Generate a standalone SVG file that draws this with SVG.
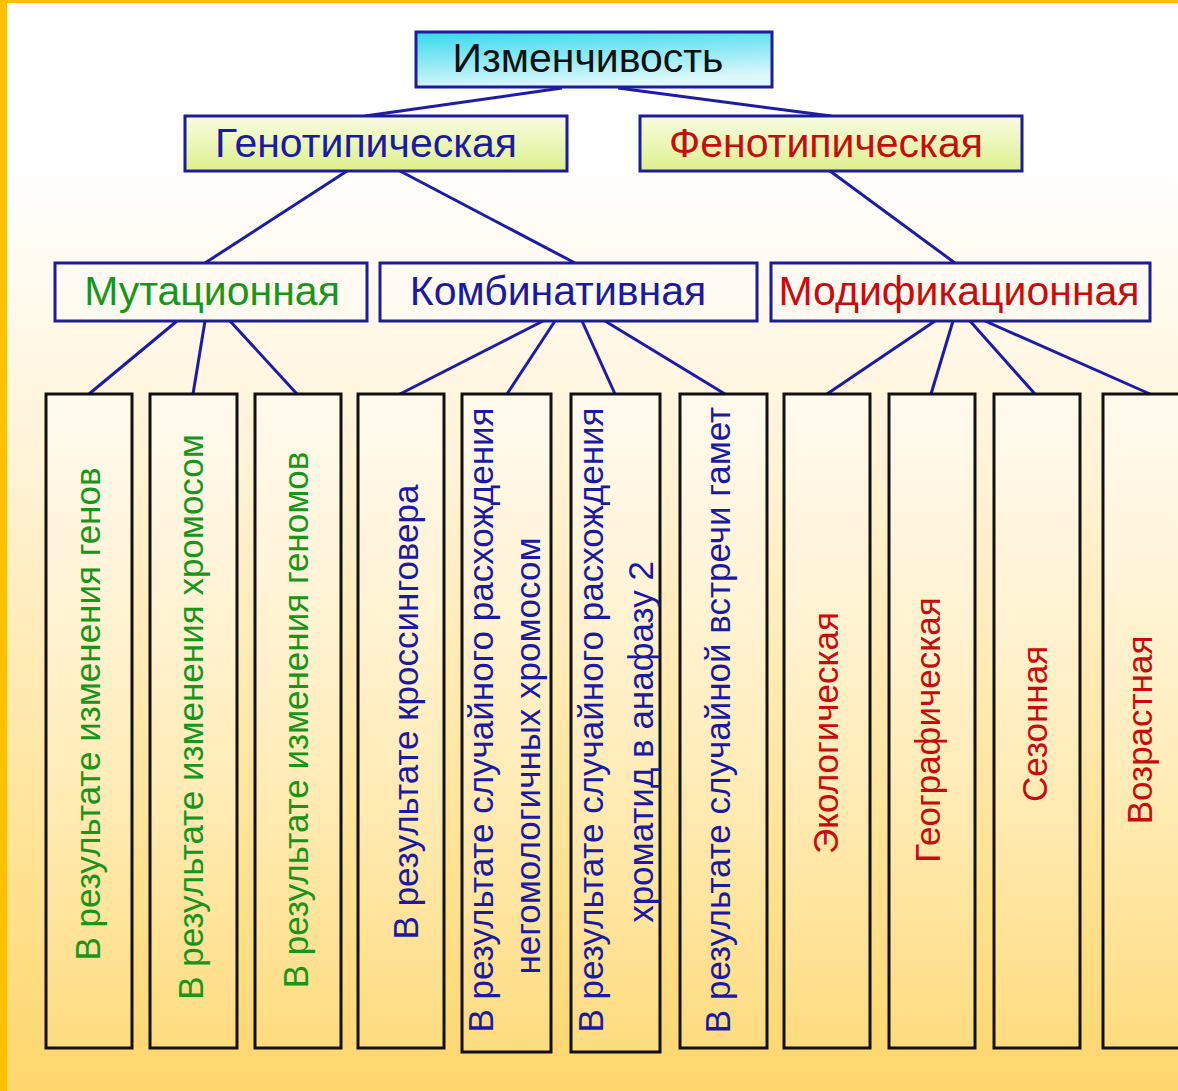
<svg xmlns="http://www.w3.org/2000/svg" width="1178" height="1091" viewBox="0 0 1178 1091">
<defs>
<linearGradient id="bg" x1="0" y1="0" x2="0" y2="1">
<stop offset="0" stop-color="#FFFFFF"/>
<stop offset="0.15" stop-color="#FFFFFF"/>
<stop offset="0.45" stop-color="#FFF2D2"/>
<stop offset="0.75" stop-color="#FFE49A"/>
<stop offset="1" stop-color="#FDD66C"/>
</linearGradient>
<linearGradient id="cyan" x1="0" y1="0" x2="0.3" y2="1">
<stop offset="0" stop-color="#36D8EC"/>
<stop offset="1" stop-color="#DDF8FB"/>
</linearGradient>
<linearGradient id="lime" x1="0" y1="0" x2="0" y2="1">
<stop offset="0" stop-color="#F8FCE2"/>
<stop offset="1" stop-color="#DDF08C"/>
</linearGradient>
<linearGradient id="tall" x1="0" y1="0" x2="0" y2="1">
<stop offset="0" stop-color="#FFFFFF" stop-opacity="0.45"/>
<stop offset="1" stop-color="#FFFFFF" stop-opacity="0.08"/>
</linearGradient>
</defs>
<style>
text{font-family:"Liberation Sans",Arial,sans-serif;}
.hd{stroke:#1C1C9C;stroke-width:3;}
.mid{fill:#FFFFFF;fill-opacity:0.25;stroke:#1C1C9C;stroke-width:3;}
.tb{fill:url(#tall);stroke:#111111;stroke-width:3;}
.h1{font-size:41px;text-anchor:middle;}
.v{font-size:35px;text-anchor:middle;}
.g{fill:#17961A;}
.b{fill:#1A1AA6;}
.r{fill:#C80C0C;}
.k{fill:#111111;}
#connectors line{stroke:#1C1CA8;stroke-width:3;}
</style>
<rect x="0" y="0" width="1178" height="1091" fill="url(#bg)"/>
<rect x="0" y="0" width="1178" height="3" fill="#FFC000"/>
<rect x="0" y="0" width="7" height="1091" fill="#FFC000"/>

<g id="connectors">
<line x1="562" y1="88" x2="365" y2="116"/>
<line x1="618" y1="88" x2="831" y2="116"/>
<line x1="347" y1="171" x2="205" y2="263"/>
<line x1="400" y1="171" x2="575" y2="263"/>
<line x1="830" y1="171" x2="955" y2="263"/>
<line x1="177" y1="321" x2="89" y2="394"/>
<line x1="205" y1="321" x2="193" y2="394"/>
<line x1="230" y1="321" x2="297" y2="394"/>
<line x1="543" y1="321" x2="400" y2="394"/>
<line x1="555" y1="321" x2="507" y2="394"/>
<line x1="582" y1="321" x2="615" y2="394"/>
<line x1="605" y1="321" x2="725" y2="394"/>
<line x1="935" y1="321" x2="827" y2="394"/>
<line x1="953" y1="321" x2="931" y2="394"/>
<line x1="970" y1="321" x2="1035" y2="394"/>
<line x1="985" y1="321" x2="1150" y2="394"/>
</g>

<g id="n-izm"><rect class="hd" x="416" y="32" width="356" height="55" fill="url(#cyan)"/><text class="h1 k" x="588" y="72">Изменчивость</text></g>
<g id="n-geno"><rect class="hd" x="185" y="116" width="382" height="55" fill="url(#lime)"/><text class="h1 b" x="366" y="157">Генотипическая</text></g>
<g id="n-feno"><rect class="hd" x="640" y="116" width="382" height="55" fill="url(#lime)"/><text class="h1 r" x="826" y="157">Фенотипическая</text></g>
<g id="n-mut"><rect class="mid" x="55" y="263" width="312" height="58"/><text class="h1 g" x="212" y="305">Мутационная</text></g>
<g id="n-komb"><rect class="mid" x="380" y="263" width="377" height="58"/><text class="h1 b" x="558" y="305">Комбинативная</text></g>
<g id="n-mod"><rect class="mid" x="771" y="263" width="379" height="58"/><text class="h1 r" x="959" y="305">Модификационная</text></g>

<g id="n-t1"><rect class="tb" x="46" y="394" width="86" height="654"/><text class="v g" transform="translate(100,714) rotate(-90)">В результате изменения генов</text></g>
<g id="n-t2"><rect class="tb" x="150" y="394" width="87" height="654"/><text class="v g" transform="translate(203,717) rotate(-90)">В результате изменения хромосом</text></g>
<g id="n-t3"><rect class="tb" x="255" y="394" width="86" height="654"/><text class="v g" transform="translate(308,720) rotate(-90)">В результате изменения геномов</text></g>
<g id="n-t4"><rect class="tb" x="358" y="394" width="86" height="654"/><text class="v b" transform="translate(418,712) rotate(-90)">В результате кроссинговера</text></g>
<g id="n-t5"><rect class="tb" x="462" y="394" width="89" height="658"/><text class="v b" transform="translate(493,720) rotate(-90)">В результате случайного расхождения</text><text class="v b" transform="translate(540,756) rotate(-90)">негомологичных  хромосом</text></g>
<g id="n-t6"><rect class="tb" x="571" y="394" width="89" height="658"/><text class="v b" transform="translate(603,720) rotate(-90)">В результате случайного расхождения</text><text class="v b" transform="translate(653,742) rotate(-90)">хроматид в анафазу 2</text></g>
<g id="n-t7"><rect class="tb" x="680" y="394" width="87" height="654"/><text class="v b" transform="translate(730,720) rotate(-90)">В результате случайной встречи гамет</text></g>
<g id="n-t8"><rect class="tb" x="784" y="394" width="86" height="654"/><text class="v r" transform="translate(838,733) rotate(-90)">Экологическая</text></g>
<g id="n-t9"><rect class="tb" x="889" y="394" width="86" height="654"/><text class="v r" transform="translate(940,730) rotate(-90)">Географическая</text></g>
<g id="n-t10"><rect class="tb" x="994" y="394" width="86" height="654"/><text class="v r" transform="translate(1047,724) rotate(-90)">Сезонная</text></g>
<g id="n-t11"><rect class="tb" x="1103" y="394" width="90" height="654"/><text class="v r" transform="translate(1152,730) rotate(-90)">Возрастная</text></g>
</svg>
